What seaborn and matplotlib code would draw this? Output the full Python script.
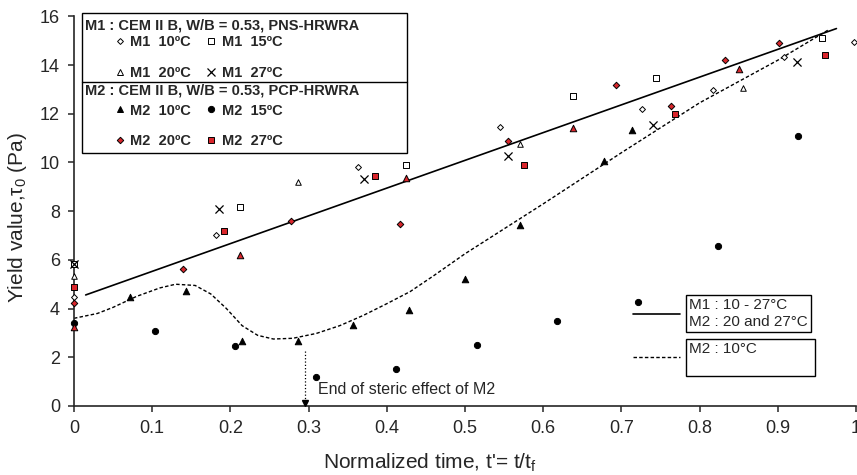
import numpy as np
import matplotlib
matplotlib.use('Agg')
import matplotlib.pyplot as plt
from matplotlib.lines import Line2D
from matplotlib.patches import Rectangle
import seaborn as sns

# Normalized time t' = t/tf and yield value tau0 (Pa)
m1_10_t = [0.0, 0.181, 0.363, 0.545, 0.726, 0.817, 0.908, 0.998]
m1_10_y = [4.46, 7.01, 9.80, 11.46, 12.20, 12.98, 14.33, 14.94]

m1_15_t = [0.0, 0.2125, 0.425, 0.638, 0.744, 0.956]
m1_15_y = [5.85, 8.17, 9.88, 12.74, 13.47, 15.13]

m1_20_t = [0.0, 0.286, 0.571, 0.856]
m1_20_y = [5.32, 9.19, 10.76, 13.05]

m1_27_t = [0.0, 0.186, 0.371, 0.555, 0.740, 0.925]
m1_27_y = [5.85, 8.10, 9.31, 10.27, 11.54, 14.13]

m2_10_t = [0.0716, 0.143, 0.2147, 0.286, 0.357, 0.4285, 0.4996, 0.571, 0.678, 0.713]
m2_10_y = [4.46, 4.74, 2.67, 2.66, 3.33, 3.94, 5.20, 7.45, 10.07, 11.33]

m2_15_t = [0.0, 0.1035, 0.206, 0.309, 0.412, 0.515, 0.618, 0.721, 0.824, 0.926]
m2_15_y = [3.42, 3.09, 2.48, 1.20, 1.51, 2.52, 3.50, 4.27, 6.57, 11.09]

m2_20_t = [0.0, 0.139, 0.277, 0.4166, 0.555, 0.693, 0.763, 0.832, 0.902]
m2_20_y = [4.23, 5.61, 7.60, 7.46, 10.90, 13.20, 12.31, 14.21, 14.90]

m2_27_t = [0.0, 0.1925, 0.3846, 0.576, 0.768, 0.960]
m2_27_y = [4.87, 7.17, 9.45, 9.90, 12.00, 14.40]

# red triangles on the chart (no legend entry in the original)
red_tri_t = [0.0, 0.2125, 0.425, 0.638, 0.850]
red_tri_y = [3.25, 6.21, 9.35, 11.43, 13.85]

# trend lines
fit_t = [0.015, 0.975]
fit_y = [4.56, 15.50]

dash_t = [0.0, 0.03, 0.05, 0.08, 0.11, 0.13, 0.155, 0.175, 0.195, 0.215, 0.235,
          0.255, 0.28, 0.31, 0.34, 0.37, 0.40, 0.43, 0.46, 0.50, 0.60, 0.70,
          0.80, 0.90, 0.965]
dash_y = [3.60, 3.80, 4.05, 4.50, 4.85, 5.00, 4.95, 4.60, 4.00, 3.30, 2.90,
          2.75, 2.78, 2.98, 3.30, 3.72, 4.20, 4.70, 5.35, 6.25, 8.30, 10.40,
          12.45, 14.20, 15.45]

steric_t = 0.296
steric_top = 2.25

xticks = [0, 0.1, 0.2, 0.3, 0.4, 0.5, 0.6, 0.7, 0.8, 0.9, 1]
xtick_labels = ['0', '0.1', '0.2', '0.3', '0.4', '0.5', '0.6', '0.7', '0.8', '0.9', '1']
yticks = [0, 2, 4, 6, 8, 10, 12, 14, 16]

RED = '#d9262c'

sns.set_style('ticks')
plt.rcParams['font.family'] = ['Liberation Sans', 'DejaVu Sans']
plt.rcParams['mathtext.fontset'] = 'custom'
plt.rcParams['mathtext.rm'] = 'Liberation Sans'
plt.rcParams['mathtext.it'] = 'Liberation Sans:italic'

fig = plt.figure(figsize=(8.57, 4.75), dpi=100)
ax = fig.add_axes([0.0863, 0.1453, 0.9125, 0.8202])

# trend lines
sns.lineplot(x=fit_t, y=fit_y, color='black', lw=1.2, ax=ax, zorder=2)
sns.lineplot(x=dash_t, y=dash_y, color='black', lw=1.0, linestyle=(0, (2.5, 1.6)), ax=ax, zorder=2)

# (t, y, marker, face, edge, size)
series = [
    (m1_10_t, m1_10_y, 'D', 'white', 'black', 9),
    (m1_15_t, m1_15_y, 's', 'white', 'black', 20),
    (m1_20_t, m1_20_y, '^', 'white', 'black', 16),
    (m1_27_t, m1_27_y, 'x', 'black', 'black', 34),
    (m2_10_t, m2_10_y, '^', 'black', 'black', 22),
    (m2_15_t, m2_15_y, 'o', 'black', 'black', 20),
    (red_tri_t, red_tri_y, '^', RED, 'black', 22),
    (m2_20_t, m2_20_y, 'D', RED, 'black', 11),
    (m2_27_t, m2_27_y, 's', RED, 'black', 22),
]
for t, y, mk, fc, ec, s in series:
    if mk == 'x':
        sns.scatterplot(x=t, y=y, marker='x', color='black', s=s, linewidth=0.9,
                        ax=ax, zorder=3, clip_on=False)
    else:
        sns.scatterplot(x=t, y=y, marker=mk, facecolor=fc, edgecolor=ec, s=s,
                        linewidth=0.7, ax=ax, zorder=3, clip_on=False)

# end of steric effect arrow
ax.plot([steric_t, steric_t], [steric_top, 0.2], color='black', ls=':', lw=0.9)
ax.plot([steric_t], [0.12], marker='v', ms=4.5, color='black', clip_on=False, zorder=4)
ax.text(0.312, 0.66, 'End of steric effect of M2', fontsize=11.5, va='center', ha='left')

# axes
ax.set_xlim(0, 1)
ax.set_ylim(0, 16)
ax.set_xticks(xticks)
ax.set_xticklabels(xtick_labels)
ax.set_yticks(yticks)
sns.despine(ax=ax)
for sp in ['left', 'bottom']:
    ax.spines[sp].set_linewidth(1.2)
ax.tick_params(direction='out', length=4, width=1.1, labelsize=13, pad=6)
ax.set_xlabel("Normalized time, t'= t/t$_\\mathrm{f}$", fontsize=15)
ax.set_ylabel('Yield value,τ$_0$ (Pa)', fontsize=15)
ax.xaxis.set_label_coords(0.455, -0.118)
ax.yaxis.set_label_coords(-0.058, 0.485)

# left legend box with two groups
box = Rectangle((0.0102, 0.6494), 0.4156, 0.3593, transform=ax.transAxes,
                facecolor='white', edgecolor='black', lw=1.0, clip_on=False, zorder=5)
ax.add_patch(box)
ax.plot([0.0102, 0.4258], [0.8316, 0.8316], transform=ax.transAxes, color='black',
        lw=1.0, clip_on=False, zorder=6)
ax.text(0.0141, 0.9754, 'M1 : CEM II B, W/B = 0.53, PNS-HRWRA', transform=ax.transAxes,
        fontsize=10.5, fontweight='bold', va='center', zorder=6)
ax.text(0.0141, 0.811, 'M2 : CEM II B, W/B = 0.53, PCP-HRWRA', transform=ax.transAxes,
        fontsize=10.5, fontweight='bold', va='center', zorder=6)


def h(mk, fc, ms, mew=0.7):
    return Line2D([], [], ls='none', marker=mk, mfc=fc, mec='black', color='black',
                  ms=ms, mew=mew)


m1_handles = [h('D', 'white', 3.0), h('^', 'white', 4.0), h('s', 'white', 4.5), h('x', 'black', 5.8, 0.9)]
m1_labels = ['M1  10ºC', 'M1  20ºC', 'M1  15ºC', 'M1  27ºC']
m2_handles = [h('^', 'black', 4.7), h('D', RED, 3.3), h('o', 'black', 4.5), h('s', RED, 4.7)]
m2_labels = ['M2  10ºC', 'M2  20ºC', 'M2  15ºC', 'M2  27ºC']

leg_kw = dict(ncol=2, loc='upper left', frameon=False, borderpad=0, borderaxespad=0,
              handlelength=0.8, handletextpad=0.3, columnspacing=1.0,
              prop={'size': 10.5, 'weight': 'bold'})
leg1 = ax.legend(m1_handles, m1_labels, bbox_to_anchor=(0.0512, 0.951),
                 labelspacing=1.15, **leg_kw)
leg1.set_zorder(7)
ax.add_artist(leg1)
leg2 = ax.legend(m2_handles, m2_labels, bbox_to_anchor=(0.0512, 0.7764),
                 labelspacing=1.15, **leg_kw)
leg2.set_zorder(7)
ax.add_artist(leg2)

# line legend at right, each label in its own box
line_handles = [Line2D([], [], color='black', lw=1.2),
                Line2D([], [], color='black', lw=1.0, linestyle=(0, (2.5, 1.6)))]
line_labels = ['M1 : 10 - 27°C\nM2 : 20 and 27°C', 'M2 : 10°C             \n']
leg3 = ax.legend(line_handles, line_labels, loc='upper left', bbox_to_anchor=(0.7148, 0.277),
                 frameon=False, borderpad=0, borderaxespad=0, handlelength=3.1,
                 handletextpad=0.55, labelspacing=0.85, prop={'size': 11})
for txt in leg3.get_texts():
    txt.set_linespacing(1.25)
    txt.set_bbox(dict(boxstyle='square,pad=0.2', facecolor='white', edgecolor='black', lw=1.0))

fig.savefig('out.png', dpi=100)
